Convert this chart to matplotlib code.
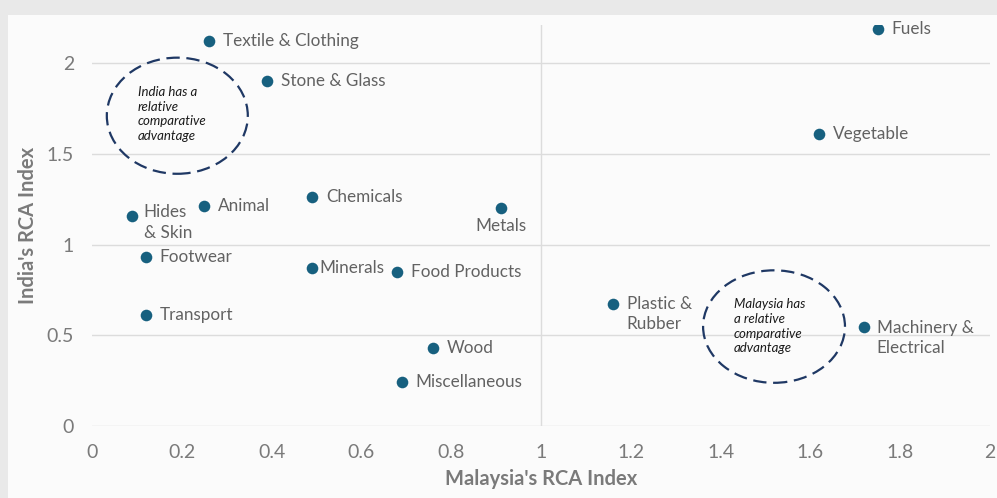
import matplotlib.pyplot as plt
from matplotlib.patches import Ellipse, Rectangle

plt.rcParams['font.family'] = ['Lato', 'DejaVu Sans']

# Data
categories = ["Textile & Clothing", "Stone & Glass", "Fuels", "Vegetable", "Chemicals",
              "Hides\n& Skin", "Animal", "Metals", "Footwear", "Minerals", "Food Products",
              "Transport", "Plastic &\nRubber", "Machinery &\nElectrical", "Wood", "Miscellaneous"]
malaysia_rca = [0.26, 0.39, 1.75, 1.62, 0.49, 0.09, 0.25, 0.91, 0.12, 0.49, 0.68,
                0.12, 1.16, 1.72, 0.76, 0.69]
india_rca = [2.12, 1.90, 2.19, 1.61, 1.26, 1.16, 1.21, 1.20, 0.93, 0.87, 0.85,
             0.61, 0.67, 0.545, 0.43, 0.24]

# label offsets in points (dx, dy, ha)
offsets = {
    "Hides\n& Skin": (8, -5, 'left'),
    "Metals": (0, -13, 'center'),
    "Minerals": (5, 0, 'left'),
    "Plastic &\nRubber": (10, -7, 'left'),
    "Machinery &\nElectrical": (9, -8, 'left'),
}

point_color = '#17607f'
text_gray = '#626262'
grid_color = '#dcdcdc'

fig = plt.figure(figsize=(9.97, 4.98), dpi=100)
fig.patch.set_facecolor('#e9e9e9')
card = Rectangle((8 / 997, 0), 1, 1 - 15 / 498, transform=fig.transFigure,
                 facecolor='#fbfbfb', edgecolor='none', zorder=-10)
fig.add_artist(card)

ax = fig.add_axes([92 / 997, 72 / 498, 898 / 997, 401 / 498])
ax.set_zorder(1)
ax.set_facecolor('none')
ax.set_xlim(0, 2)
ax.set_ylim(0, 2.21)

for y in [0, 0.5, 1, 1.5, 2]:
    ax.axhline(y, color=grid_color, lw=1, zorder=1)
ax.axvline(1, color=grid_color, lw=1, zorder=1)

ax.scatter(malaysia_rca, india_rca, s=70, color=point_color, zorder=3, linewidths=0)

for name, x, y in zip(categories, malaysia_rca, india_rca):
    dx, dy, ha = offsets.get(name, (10, 0, 'left'))
    ax.annotate(name, (x, y), xytext=(dx, dy), textcoords='offset points',
                ha=ha, va='center', fontsize=12.3, color=text_gray, linespacing=1.35)

# annotation ellipses
ax.add_patch(Ellipse((0.19, 1.71), 0.314, 0.64, fill=False, edgecolor='#1f3864',
                     lw=1.6, ls=(0, (6, 3)), zorder=2))
ax.text(0.102, 1.72, "India has a\nrelative\ncomparative\nadvantage", fontsize=9.5,
        style='italic', color='#1a1a1a', va='center', ha='left', linespacing=1.28)
ax.add_patch(Ellipse((1.519, 0.548), 0.316, 0.62, fill=False, edgecolor='#1f3864',
                     lw=1.6, ls=(0, (6, 3)), zorder=2))
ax.text(1.43, 0.55, "Malaysia has\na relative\ncomparative\nadvantage", fontsize=9.5,
        style='italic', color='#1a1a1a', va='center', ha='left', linespacing=1.28)

ax.set_xticks([0, 0.2, 0.4, 0.6, 0.8, 1, 1.2, 1.4, 1.6, 1.8, 2])
ax.set_xticklabels(['0', '0.2', '0.4', '0.6', '0.8', '1', '1.2', '1.4', '1.6', '1.8', '2'])
ax.set_yticks([0, 0.5, 1, 1.5, 2])
ax.set_yticklabels(['0', '0.5', '1', '1.5', '2'])
ax.tick_params(length=0, labelsize=14, labelcolor='#7a7a7a', pad=13)
for s in ax.spines.values():
    s.set_visible(False)

ax.set_xlabel("Malaysia's RCA Index", fontsize=14.5, fontweight='bold', color='#7a7a7a', labelpad=6)
ax.set_ylabel("India's RCA Index", fontsize=14.5, fontweight='bold', color='#7a7a7a', labelpad=6)

fig.savefig('out.png', dpi=100, facecolor=fig.get_facecolor())
